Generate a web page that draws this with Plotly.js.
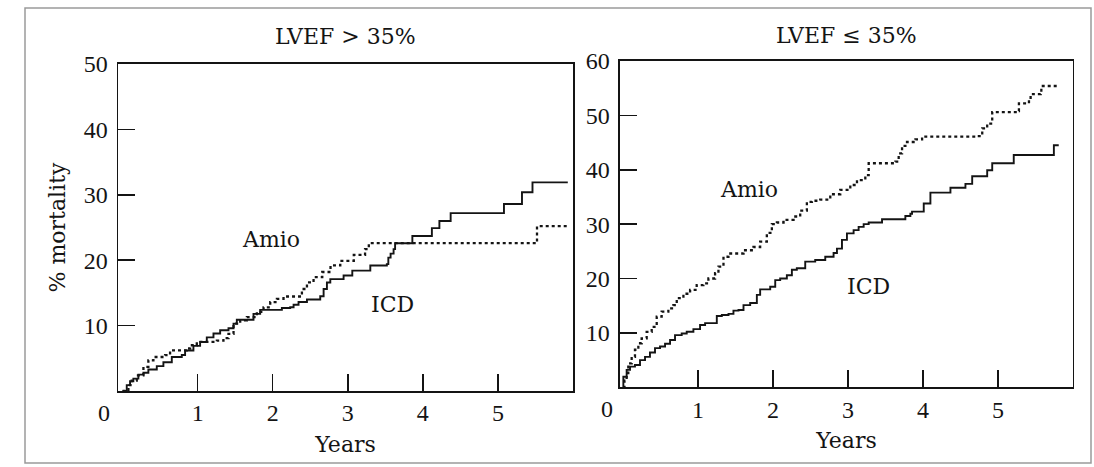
<!DOCTYPE html>
<html>
<head>
<meta charset="utf-8">
<script src="https://cdn.plot.ly/plotly-3.0.1.min.js"></script>
<style>html,body{margin:0;padding:0;background:#fff;}#chart{width:1094px;height:467px;}</style>
</head>
<body>
<div id="chart"></div>
<script>
// ---- Data (cumulative % mortality, Kaplan-Meier steps) ----
const panelTitles = ["LVEF > 35%", "LVEF \u2264 35%"];
const xTickVals = [1, 2, 3, 4, 5];
const xTickText = ["1", "2", "3", "4", "5"];
const yTickValsLeft = [10, 20, 30, 40, 50];
const yTickValsRight = [10, 20, 30, 40, 50, 60];

// Left panel: LVEF > 35%
const leftIcdYears = [0, 0.056, 0.1, 0.144, 0.211, 0.278, 0.344, 0.456, 0.544, 0.656, 0.789, 0.833, 0.944, 1.033, 1.122, 1.211, 1.3, 1.411, 1.478, 1.522, 1.744, 1.833, 2.122, 2.233, 2.278, 2.344, 2.456, 2.633, 2.678, 2.722, 2.767, 2.944, 3.06, 3.30, 3.52, 3.54, 3.57, 3.61, 3.63, 3.86, 4.12, 4.22, 4.37, 5.08, 5.32, 5.46, 5.93];
const leftIcdMort  = [0, 0.9, 1.5, 1.9, 2.5, 2.8, 3.3, 3.8, 4.4, 5.2, 5.5, 6.2, 6.9, 7.5, 8.2, 8.8, 9.3, 9.6, 10.3, 10.9, 11.8, 12.4, 12.7, 12.8, 13.2, 13.6, 14.0, 14.5, 15.6, 16.6, 17.1, 17.65, 18.4, 19.2, 19.4, 20.4, 21.0, 21.7, 22.6, 23.7, 24.9, 26.0, 27.2, 28.6, 30.4, 31.9, 31.9];
const leftAmioYears = [0, 0.078, 0.122, 0.189, 0.278, 0.344, 0.411, 0.567, 0.633, 0.856, 0.9, 0.989, 1.256, 1.344, 1.411, 1.478, 1.567, 1.656, 1.789, 1.878, 1.967, 2.056, 2.144, 2.389, 2.456, 2.544, 2.66, 2.77, 2.90, 3.08, 3.23, 3.28, 5.52, 5.95];
const leftAmioMort  = [0, 0.9, 1.6, 2.4, 3.7, 4.7, 5.2, 5.5, 6.2, 6.5, 7.0, 7.5, 7.7, 8.1, 8.75, 10.3, 10.8, 11.3, 12.1, 12.8, 13.6, 14.1, 14.45, 15.6, 16.6, 17.4, 18.2, 19.2, 19.9, 20.8, 21.7, 22.6, 25.2, 25.2];

// Right panel: LVEF <= 35%
const rightIcdYears = [0, 0.005, 0.049, 0.094, 0.16, 0.227, 0.294, 0.36, 0.427, 0.494, 0.561, 0.628, 0.694, 0.783, 0.85, 0.939, 1.028, 1.095, 1.251, 1.318, 1.407, 1.473, 1.54, 1.607, 1.696, 1.785, 1.829, 1.963, 2.03, 2.096, 2.185, 2.252, 2.318, 2.43, 2.563, 2.697, 2.808, 2.853, 2.92, 2.986, 3.075, 3.142, 3.209, 3.276, 3.454, 3.765, 3.832, 3.854, 4.01, 4.099, 4.366, 4.566, 4.656, 4.856, 4.923, 5.21, 5.745, 5.81];
const rightIcdMort  = [0, 1.95, 3.2, 3.8, 4.1, 5.0, 5.6, 6.4, 7.2, 7.5, 8.0, 8.7, 9.6, 9.9, 10.2, 10.7, 11.45, 11.8, 13.1, 13.3, 13.5, 14.1, 14.2, 15.1, 15.5, 17.0, 18.0, 18.5, 19.7, 20.0, 20.6, 21.6, 21.9, 23.1, 23.4, 24.0, 24.7, 25.5, 27.1, 28.3, 28.9, 29.5, 30.0, 30.3, 30.9, 31.5, 31.9, 32.3, 33.8, 35.8, 36.7, 37.4, 38.8, 39.9, 41.2, 42.7, 44.5, 44.5];
const rightAmioYears = [0, 0.02, 0.049, 0.071, 0.116, 0.16, 0.205, 0.249, 0.316, 0.383, 0.45, 0.516, 0.605, 0.672, 0.717, 0.806, 0.895, 0.983, 1.072, 1.139, 1.228, 1.273, 1.34, 1.406, 1.607, 1.74, 1.829, 1.918, 1.985, 2.052, 2.141, 2.274, 2.363, 2.452, 2.519, 2.63, 2.764, 2.897, 3.031, 3.12, 3.231, 3.276, 3.632, 3.676, 3.721, 3.787, 3.899, 3.988, 4.723, 4.79, 4.856, 4.923, 5.257, 5.279, 5.413, 5.435, 5.569, 5.578, 5.79];
const rightAmioMort  = [0, 1.2, 2.6, 4.4, 5.6, 6.9, 8.1, 9.0, 10.2, 11.1, 13.0, 13.9, 14.5, 15.1, 16.4, 17.2, 17.9, 18.8, 19.1, 20.0, 21.0, 22.2, 24.0, 24.6, 25.2, 25.8, 26.8, 28.4, 30.0, 30.3, 30.8, 31.4, 32.5, 34.1, 34.3, 34.5, 35.5, 36.3, 37.2, 38.1, 39.0, 41.2, 41.5, 43.0, 44.4, 45.1, 45.6, 46.1, 46.2, 47.6, 48.5, 50.6, 50.8, 52.2, 52.8, 53.9, 54.0, 55.4, 55.4];

// ---- Styling ----
const INK = '#141414';
const NUM_FONT = {family: 'Liberation Serif, Times New Roman, serif', size: 24, color: INK};
const TXT_FONT = {family: 'DejaVu Serif, serif', size: 22, color: INK};
const solid = {color: INK, width: 1.9, shape: 'hv'};
const dotted = {color: INK, width: 2.3, shape: 'hv', dash: '3px,3px'};

const traces = [
  {x: leftIcdYears, y: leftIcdMort, xaxis: 'x', yaxis: 'y', mode: 'lines', line: solid, name: 'ICD'},
  {x: leftAmioYears, y: leftAmioMort, xaxis: 'x', yaxis: 'y', mode: 'lines', line: dotted, name: 'Amio'},
  {x: rightIcdYears, y: rightIcdMort, xaxis: 'x2', yaxis: 'y2', mode: 'lines', line: solid, name: 'ICD'},
  {x: rightAmioYears, y: rightAmioMort, xaxis: 'x2', yaxis: 'y2', mode: 'lines', line: dotted, name: 'Amio'}
];

function xAxis(domain, range, anchor) {
  return {
    domain: domain, range: range, anchor: anchor,
    showline: true, mirror: true, linecolor: INK, linewidth: 1.5,
    ticks: 'inside', ticklen: 17, tickwidth: 1.5, tickcolor: INK,
    tickvals: xTickVals, ticktext: xTickText, tickfont: NUM_FONT,
    ticklabelstandoff: 0,
    showgrid: false, zeroline: false,
    title: {text: 'Years', font: TXT_FONT, standoff: 11}
  };
}
function yAxis(domain, range, anchor, tickvals, title) {
  return {
    domain: domain, range: range, anchor: anchor,
    showline: true, mirror: true, linecolor: INK, linewidth: 1.5,
    ticks: 'inside', ticklen: 17, tickwidth: 1.5, tickcolor: INK,
    tickvals: tickvals, tickfont: NUM_FONT, ticklabelstandoff: 4,
    showgrid: false, zeroline: false,
    title: {text: title, font: TXT_FONT, standoff: 12}
  };
}

const layout = {
  width: 1094, height: 467,
  margin: {l: 0, r: 0, t: 0, b: 0},
  paper_bgcolor: '#fff', plot_bgcolor: '#fff',
  showlegend: false,
  font: TXT_FONT,
  xaxis: xAxis([0.1079, 0.5238], [-0.06, 6.0], 'y'),
  yaxis: yAxis([0.1627, 0.8630], [0, 50], 'x', yTickValsLeft, '% mortality'),
  xaxis2: xAxis([0.5667, 0.9808], [-0.04, 6.0], 'y2'),
  yaxis2: yAxis([0.1707, 0.8694], [0, 60], 'x2', yTickValsRight, ''),
  annotations: [
    {text: panelTitles[0], xref: 'x domain', yref: 'paper', x: 0.5, y: 1 - 36/467, showarrow: false, font: TXT_FONT, xanchor: 'center', yanchor: 'middle'},
    {text: panelTitles[1], xref: 'x2 domain', yref: 'paper', x: 0.5, y: 1 - 35/467, showarrow: false, font: TXT_FONT, xanchor: 'center', yanchor: 'middle'},
    {text: '0', xref: 'paper', yref: 'paper', x: 104/1094, y: 1 - 413/467, showarrow: false, font: NUM_FONT, xanchor: 'center', yanchor: 'middle'},
    {text: '0', xref: 'paper', yref: 'paper', x: 607/1094, y: 1 - 409/467, showarrow: false, font: NUM_FONT, xanchor: 'center', yanchor: 'middle'},
    {text: 'Amio', xref: 'x', yref: 'y', x: 1.98, y: 23.2, showarrow: false, font: TXT_FONT},
    {text: 'ICD', xref: 'x', yref: 'y', x: 3.59, y: 13.3, showarrow: false, font: TXT_FONT},
    {text: 'Amio', xref: 'x2', yref: 'y2', x: 1.68, y: 36.3, showarrow: false, font: TXT_FONT},
    {text: 'ICD', xref: 'x2', yref: 'y2', x: 3.28, y: 18.6, showarrow: false, font: TXT_FONT}
  ],
  shapes: [
    {type: 'rect', xref: 'paper', yref: 'paper', x0: 25/1094, x1: 1091/1094, y0: 1 - 463/467, y1: 1 - 8/467,
     line: {color: '#9a9a9a', width: 1.5}, fillcolor: 'rgba(0,0,0,0)', layer: 'below'}
  ]
};

Plotly.newPlot('chart', traces, layout, {staticPlot: true, displayModeBar: false});
</script>
</body>
</html>
